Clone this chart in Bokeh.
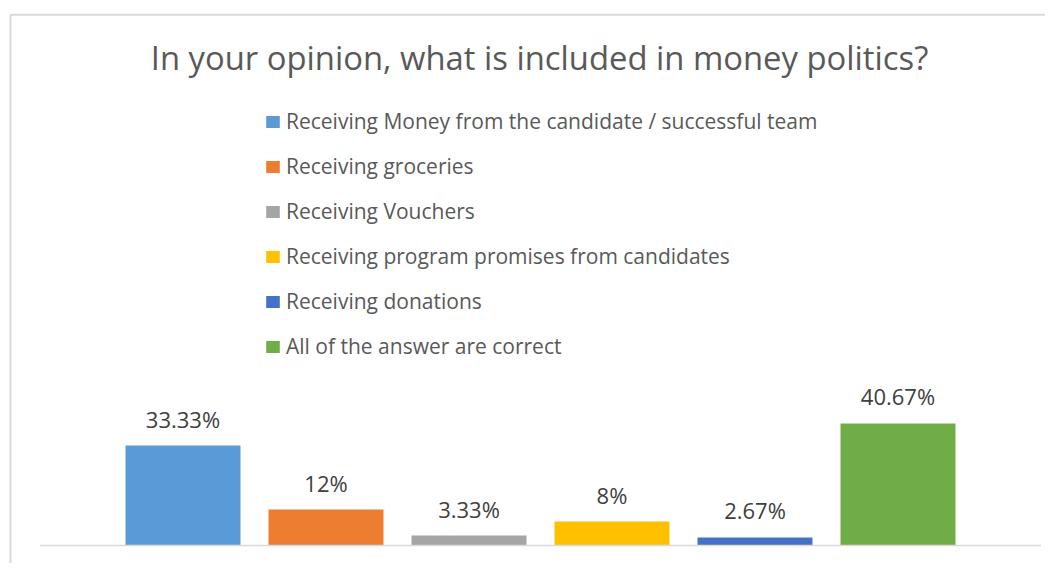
from bokeh.plotting import figure
from bokeh.models import Range1d, ColumnDataSource, Legend, LegendItem, Label
from bokeh.embed import file_html
from bokeh.resources import INLINE
from bokeh.core.properties import value

title_text = "In your opinion, what is included in money politics?"
categories = [
    "Receiving Money from the candidate / successful team",
    "Receiving groceries",
    "Receiving Vouchers",
    "Receiving program promises from candidates",
    "Receiving donations",
    "All of the answer are correct",
]
values = [33.33, 12, 3.33, 8, 2.67, 40.67]
value_labels = ["33.33%", "12%", "3.33%", "8%", "2.67%", "40.67%"]
colors = ["#5B9BD5", "#ED7D31", "#A5A5A5", "#FFC000", "#4472C4", "#70AD47"]

FONT = "Open Sans"
W, H = 1045, 563

src = ColumnDataSource(dict(
    x=list(range(len(categories))),
    value=values,
    label=value_labels,
    color=colors,
    cat=categories,
))

p = figure(width=W, height=H, output_backend="svg", toolbar_location=None,
           min_border=0, x_axis_type=None, y_axis_type=None,
           x_range=Range1d(-1.2762, 6.0315), y_range=Range1d(-6, 181.667))
p.grid.visible = False
p.outline_line_color = None
p.background_fill_color = "white"
p.border_fill_color = "white"

# chart border (top and left visible)
p.segment(x0=[-1.2063], y0=[176.9], x1=[-1.2063], y1=[-20], line_color="#D9D9D9", line_width=2)
p.segment(x0=[-1.2063], y0=[176.9], x1=[7], y1=[176.9], line_color="#D9D9D9", line_width=2)

bars = p.vbar(x="x", top="value", width=0.804, fill_color="color", line_color=None, source=src)

# category axis line
p.segment(x0=[-1], y0=[0], x1=[6], y1=[0], line_color="#D9D9D9", line_width=1.5)

p.text(x="x", y="value", text="label", source=src, text_align="center",
       text_baseline="alphabetic", y_offset=-27, text_font=value(FONT),
       text_font_size="22px", text_color="#404040")

p.add_layout(Label(x=539, y=506, x_units="screen", y_units="screen", text=title_text,
                   text_align="center", text_baseline="alphabetic", text_font=FONT,
                   text_font_size="32.8px", text_color="#595959"))

legend = Legend(items=[LegendItem(label=categories[i], renderers=[bars], index=i)
                       for i in range(len(categories))],
                location=(264, 203), orientation="vertical",
                glyph_width=17, glyph_height=15, label_height=24, spacing=17,
                label_standoff=5, padding=0, margin=0,
                border_line_color=None, background_fill_alpha=0,
                label_text_font=FONT, label_text_font_size="21px",
                label_text_color="#595959")
p.add_layout(legend)

open("out.html", "w").write(file_html(p, INLINE))
